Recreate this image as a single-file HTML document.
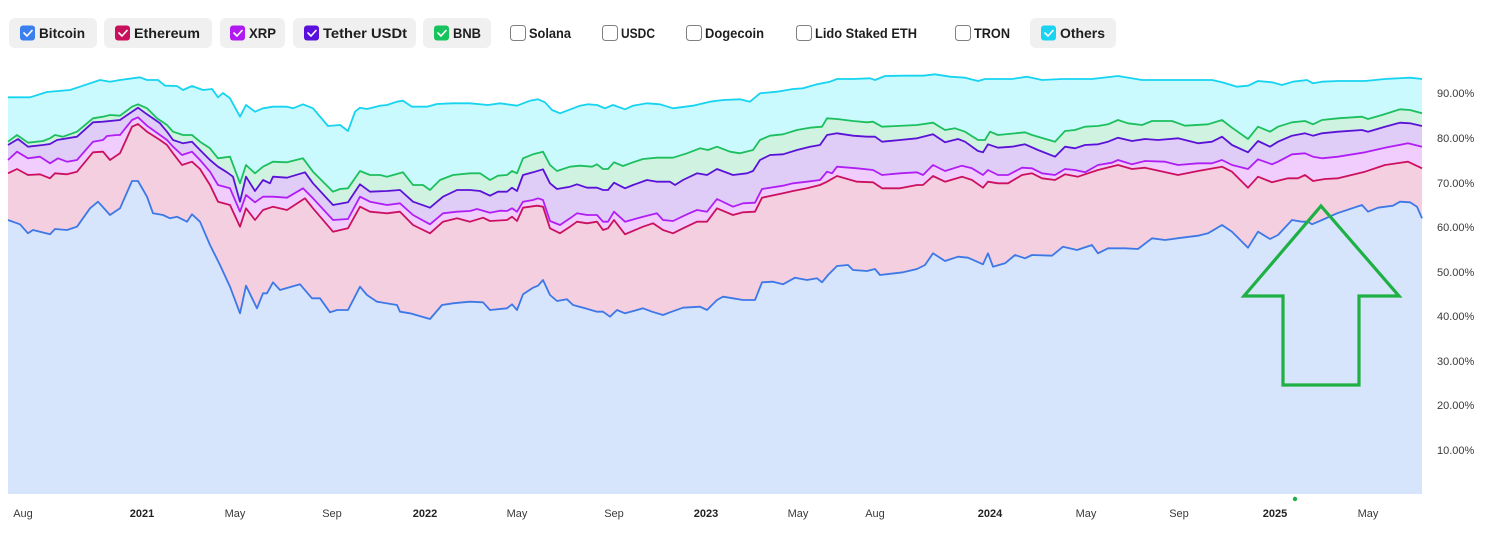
<!DOCTYPE html>
<html><head><meta charset="utf-8"><style>
html,body{margin:0;padding:0;background:#fff;width:1488px;height:536px;overflow:hidden}
svg{display:block}
.lg{font-family:"Liberation Sans",sans-serif;font-size:14px;font-weight:bold;fill:#1e1e1e}
.ax{font-family:"Liberation Sans",sans-serif;font-size:11px;fill:#3a3a3a}
.yr{font-weight:bold;fill:#222}
</style></head><body>
<svg width="1488" height="536" viewBox="0 0 1488 536" xmlns="http://www.w3.org/2000/svg">
<!-- legend buttons -->
<g>
<rect x="9" y="18" width="88" height="30" rx="6" fill="#f0f0f0"/>
<rect x="104" y="18" width="108" height="30" rx="6" fill="#f0f0f0"/>
<rect x="220" y="18" width="65" height="30" rx="6" fill="#f0f0f0"/>
<rect x="293" y="18" width="123" height="30" rx="6" fill="#f0f0f0"/>
<rect x="423" y="18" width="68" height="30" rx="6" fill="#f0f0f0"/>
<rect x="1030" y="18" width="86" height="30" rx="6" fill="#f0f0f0"/>

<rect x="20" y="25.5" width="15" height="15" rx="3" fill="#3a7ff0"/>
<rect x="115" y="25.5" width="15" height="15" rx="3" fill="#c8105c"/>
<rect x="230" y="25.5" width="15" height="15" rx="3" fill="#b01af0"/>
<rect x="304" y="25.5" width="15" height="15" rx="3" fill="#5a10dc"/>
<rect x="434" y="25.5" width="15" height="15" rx="3" fill="#17c35c"/>
<rect x="1041" y="25.5" width="15" height="15" rx="3" fill="#1ad3f0"/>
<g fill="none" stroke="#fff" stroke-width="1.6" stroke-linecap="round" stroke-linejoin="round">
<path d="M24 33 l3 3 l5 -5.5"/>
<path d="M119 33 l3 3 l5 -5.5"/>
<path d="M234 33 l3 3 l5 -5.5"/>
<path d="M308 33 l3 3 l5 -5.5"/>
<path d="M438 33 l3 3 l5 -5.5"/>
<path d="M1045 33 l3 3 l5 -5.5"/>
</g>
<g fill="#fff" stroke="#808080" stroke-width="1">
<rect x="510.5" y="25.5" width="15" height="15" rx="3"/>
<rect x="602.5" y="25.5" width="15" height="15" rx="3"/>
<rect x="686.5" y="25.5" width="15" height="15" rx="3"/>
<rect x="796.5" y="25.5" width="15" height="15" rx="3"/>
<rect x="955.5" y="25.5" width="15" height="15" rx="3"/>
</g>
<text class="lg" x="39" y="38" textLength="46" lengthAdjust="spacingAndGlyphs">Bitcoin</text>
<text class="lg" x="134" y="38" textLength="66" lengthAdjust="spacingAndGlyphs">Ethereum</text>
<text class="lg" x="249" y="38" textLength="27" lengthAdjust="spacingAndGlyphs">XRP</text>
<text class="lg" x="323" y="38" textLength="84" lengthAdjust="spacingAndGlyphs">Tether USDt</text>
<text class="lg" x="453" y="38" textLength="28" lengthAdjust="spacingAndGlyphs">BNB</text>
<text class="lg" x="529" y="38" textLength="42" lengthAdjust="spacingAndGlyphs">Solana</text>
<text class="lg" x="621" y="38" textLength="34" lengthAdjust="spacingAndGlyphs">USDC</text>
<text class="lg" x="705" y="38" textLength="59" lengthAdjust="spacingAndGlyphs">Dogecoin</text>
<text class="lg" x="815" y="38" textLength="102" lengthAdjust="spacingAndGlyphs">Lido Staked ETH</text>
<text class="lg" x="974" y="38" textLength="36" lengthAdjust="spacingAndGlyphs">TRON</text>
<text class="lg" x="1060" y="38" textLength="45" lengthAdjust="spacingAndGlyphs">Others</text>
</g>

<!-- fills -->
<g stroke="none">
<polygon fill="#cbfafe" points="8,97.3 30,97.3 47,92 70,90 80,86.7 100,80 110,81.7 120,80 140,77.3 147,80 158,80 165,85.7 177,86 183,90 192,86 203,90 212,89 218,97.3 223,93 230,98.3 240,116.7 246,105 255,111.7 263,108.3 273,106.7 287,106.7 293,108.3 303,104.3 313,108.3 328,126 340,125 348,131 355,111.7 360,107.7 367,109 380,105.7 387,105 397,101.7 403,100.7 412,106.7 427,106.7 437,104 453,103.3 470,103.3 488,105 500,103.3 517,105.7 530,100.7 538,99.3 545,102.3 552,110 560,113.3 580,105.7 588,104.3 597,105 605,108.3 613,105 625,109.3 633,105.7 647,103.3 660,104.3 673,108.3 693,105.7 710,101.7 723,100 740,99.3 750,101.7 760,93.3 777,91.7 793,89 803,88.3 817,84.3 830,81.7 837,79 853,79 870,78.3 875,80 885,76 903,75.7 923,75.7 935,74.3 950,76.7 965,77.7 978,81 985,79 1012,79 1027,76.7 1042,80 1062,79 1092,79 1118,76 1142,80 1178,80 1212,80 1222,82.3 1237,86.7 1248,85.7 1258,81 1272,82.3 1282,85 1293,81.7 1307,80 1313,83.3 1322,81.7 1338,81 1365,81 1385,79 1410,77.7 1422,79 1422,494 8,494"/>
<polygon fill="#cff3e0" points="8,141.7 17,135 28,142.7 43,141 50,138.3 55,135 63,136.7 77,131.7 93,118.3 103,116.7 110,115 120,115.7 132,106.7 138,104.3 147,108.3 157,118.3 167,125 173,131.7 183,135 192,135 200,141.7 210,148.3 218,158.3 230,156.7 240,183.3 246,165 255,173.3 263,166.7 273,161.7 287,162.3 303,158.3 313,171.7 333,191.7 340,189 348,188.3 360,171 370,175 380,175 387,176.7 403,172.3 413,185 423,185 430,190 440,180 453,175 470,173.3 480,173.3 490,180 498,175.7 507,175 512,171 517,173.3 523,158.3 533,154.3 543,151.7 550,165 557,171 570,166.7 580,165.7 592,166.7 597,164.3 603,169 608,169 614,162.3 623,166 633,162.3 643,159 657,157.7 673,157.7 687,153.3 700,148.3 708,150 717,146.7 730,151.7 740,153.3 753,150 760,140 770,135.7 783,134.3 797,130 810,127.7 822,126.7 827,118.3 837,119 853,121 867,122.3 873,121.7 882,126.7 897,126 917,125 933,122.7 945,130 955,128.3 965,131.7 978,140 985,140 990,131.7 998,135 1025,132.3 1032,135 1038,136.7 1055,141.7 1065,131 1075,130 1085,126.7 1098,126 1108,124.3 1118,120 1128,123.3 1142,125 1152,121 1172,121 1185,125.7 1208,124.3 1222,120 1232,127.7 1248,139 1258,126.7 1270,131.7 1278,126.7 1292,122.3 1305,121 1313,124.3 1322,120 1338,118.3 1362,116.7 1368,119 1382,115 1400,109.3 1410,110 1422,113.3 1422,494 8,494"/>
<polygon fill="#dfcdf8" points="8,145 18,139 28,146.7 43,145 50,144 57,140 77,136.7 93,122.3 103,121.7 120,120 132,111.7 138,107.7 147,114.3 160,123.3 167,131.7 173,140 183,143.3 192,141.7 200,150 210,160 218,166.7 227,172.3 233,176.7 240,201.7 246,176.7 255,191 263,180 270,183.3 273,176.7 287,177.7 305,172.3 313,183.3 333,205 348,202.3 360,184.3 370,191.7 387,191 400,190 413,201.7 430,207.7 443,196.7 457,190 470,190 480,191 490,195.7 498,191.7 507,191.7 512,187.7 517,191 523,175 533,172.3 543,169.3 550,183.3 557,189 570,186.7 577,184.3 587,187.7 597,187.7 603,190 608,190 614,182.7 625,188.3 633,185 647,180 657,181.7 670,181.7 675,185 683,180 697,173.3 707,175 717,169 733,175 747,173.3 753,171 760,160 770,155 783,154.3 797,150 810,146.7 820,145 827,135 837,133.3 853,135.7 867,136.7 875,136.7 882,141.7 900,140 917,138.3 933,134.3 945,142.3 958,139 965,141.7 978,151 983,152.3 988,144.3 998,147.7 1012,146.7 1025,144.3 1038,150 1055,156.7 1065,146.7 1075,148.3 1085,145 1098,144.3 1108,141.7 1118,137.7 1132,141 1145,139 1158,140 1178,138.3 1198,143.3 1212,141.7 1222,136.7 1232,145 1248,152.3 1258,141 1270,146.7 1278,141.7 1292,135.7 1305,133.3 1313,135.7 1322,133.3 1338,131.7 1362,130 1368,131.7 1385,126.7 1400,122.7 1410,123.3 1422,126 1422,494 8,494"/>
<polygon fill="#f1cdfd" points="8,160 17,151.7 28,158.3 40,156.7 50,163.3 58,158.3 67,161.7 77,160 93,141.7 103,140 107,136 117,135 120,135 132,120 138,117.3 147,125.7 160,135 167,140 173,146.7 182,155 192,151.7 200,160 210,171.7 218,185 230,188.3 240,211.7 246,195 255,202.3 263,196.7 273,196.7 287,197.7 303,188.3 313,198.3 333,220 348,219 360,196.7 370,201.7 387,205 400,203.3 413,215 430,224.3 443,213.3 457,211.7 470,211 477,209 490,212.7 500,210.7 507,211 512,208.3 517,211.7 523,201.7 533,200 538,198.3 543,200 550,221 560,225 570,218.3 577,213.3 587,215 597,215 603,221.7 608,221.7 614,211.7 625,221.7 643,216.7 657,213.3 663,220 673,221 687,214.3 697,210 707,211.7 717,199 733,206.7 743,203.3 755,202.7 762,189 783,185.7 793,183.3 807,181.7 820,180 827,171.7 832,173.3 837,166.7 857,168.3 873,170 882,175 900,173.3 917,172.3 923,175 933,165 945,171 962,165.7 972,168.3 983,175 988,170 998,175 1008,175 1022,167.7 1032,168.3 1042,173.3 1055,175 1065,169 1075,170 1085,172.3 1098,165 1112,162.7 1118,160 1132,164.3 1145,161 1165,161.7 1178,165 1198,163.3 1212,163.3 1222,160 1232,165 1248,169 1258,159.3 1272,164.3 1278,161.7 1292,154.3 1305,153.3 1313,156.7 1322,158.3 1338,156.7 1365,152.3 1385,147.7 1408,143.3 1422,146.7 1422,494 8,494"/>
<polygon fill="#f4cfdf" points="8,173.3 17,169 28,175 40,174.3 50,178.3 55,173.3 67,174.3 77,171.7 93,152.3 103,151.7 110,160 120,153.3 132,126.7 138,124 147,131.7 160,140 167,145 173,153.3 182,165 192,161.7 200,169 210,185 218,201.7 230,205 240,226.7 246,208.3 255,220 263,210 273,206.7 287,210 305,198.3 313,208.3 333,231.7 348,228.3 360,206.7 370,211.7 387,213.3 400,211.7 413,225 430,233.3 443,221.7 457,218.3 470,221.7 483,217.7 490,221 507,220 512,216.7 517,221 523,207.7 537,205.7 543,206.7 550,228.3 560,233.3 570,226.7 577,221.7 587,223.3 597,221.7 603,230 608,228.3 614,220 625,234.3 643,226.7 653,223.3 663,230 673,233.3 683,228.3 697,221.7 707,221.7 717,208.3 733,215 743,212.3 755,211.7 762,197.7 783,193.3 793,191 807,188.3 820,185 827,181.7 837,176 857,181.7 873,182.3 882,188.3 900,188.3 917,185 923,185 933,176 945,181.7 962,176.7 972,180 983,187.7 988,181.7 998,183.3 1008,183.3 1022,175 1032,173.3 1042,178.3 1055,180 1065,174.3 1078,176.7 1088,173.3 1098,170 1118,165 1132,169 1145,167.7 1178,175 1198,171 1222,166.7 1232,171.7 1248,187.7 1258,176.7 1272,182.3 1288,178.3 1298,178.3 1305,175 1313,181 1325,179 1338,178.3 1365,171.7 1385,165 1408,161.7 1422,168.3 1422,494 8,494"/>
<polygon fill="#d6e4fc" points="8,220 20,224.3 28,233.3 33,230 50,234.3 55,229 67,230 77,226.7 90,208.3 98,201.7 110,215 120,208.3 132,181 138,181 147,196.7 153,213.3 163,215 170,218.3 177,216.7 187,221.7 192,214.3 200,221.7 210,245 220,265 230,286.7 240,313.3 246,285.7 257,308.3 263,293.3 267,293.3 273,282.3 280,290 300,284.3 312,298.3 320,298.3 330,312.3 337,310 348,310 360,286.7 367,295 377,301.7 397,305 400,311.7 410,313.3 430,319 442,305 453,303.3 463,302.3 470,301.7 483,302.3 490,310 507,308.3 512,304.3 517,310 523,294.3 533,287.7 538,285.7 543,280 550,295 557,301 567,299.3 573,305 585,308.3 597,311.7 603,311.7 610,316.7 617,310 625,313.3 637,310 643,308.3 652,311.7 663,315 670,312.3 683,307.7 700,306.7 707,310 717,300 723,296.7 733,298.3 743,300 755,300 762,282.3 773,281.7 783,284.3 795,277.7 807,280 817,278.3 822,282.3 828,275 837,266 848,265 853,270 867,271 875,269 880,275 903,272.3 917,269 925,265 933,253.3 945,261 958,256.7 968,257.7 983,264.3 988,253.3 993,266.7 1005,263.3 1015,255 1025,258.3 1032,255 1052,255.7 1063,246.7 1077,250 1092,245 1098,253.3 1108,248.3 1125,248.3 1138,249 1152,238.3 1165,240 1182,237.7 1198,235.7 1208,233.3 1222,225 1232,231.7 1248,247.7 1258,231.7 1270,239 1278,235 1292,220 1302,221.7 1308,221.7 1312,224.3 1322,220 1337,213.3 1362,205 1368,211.7 1378,207.7 1393,205.7 1400,201.7 1410,202.3 1417,206.7 1422,218.3 1422,494 8,494"/>
</g>

<!-- lines -->
<g fill="none" stroke-width="1.8" stroke-linejoin="round">
<polyline stroke="#16d3f0" points="8,97.3 30,97.3 47,92 70,90 80,86.7 100,80 110,81.7 120,80 140,77.3 147,80 158,80 165,85.7 177,86 183,90 192,86 203,90 212,89 218,97.3 223,93 230,98.3 240,116.7 246,105 255,111.7 263,108.3 273,106.7 287,106.7 293,108.3 303,104.3 313,108.3 328,126 340,125 348,131 355,111.7 360,107.7 367,109 380,105.7 387,105 397,101.7 403,100.7 412,106.7 427,106.7 437,104 453,103.3 470,103.3 488,105 500,103.3 517,105.7 530,100.7 538,99.3 545,102.3 552,110 560,113.3 580,105.7 588,104.3 597,105 605,108.3 613,105 625,109.3 633,105.7 647,103.3 660,104.3 673,108.3 693,105.7 710,101.7 723,100 740,99.3 750,101.7 760,93.3 777,91.7 793,89 803,88.3 817,84.3 830,81.7 837,79 853,79 870,78.3 875,80 885,76 903,75.7 923,75.7 935,74.3 950,76.7 965,77.7 978,81 985,79 1012,79 1027,76.7 1042,80 1062,79 1092,79 1118,76 1142,80 1178,80 1212,80 1222,82.3 1237,86.7 1248,85.7 1258,81 1272,82.3 1282,85 1293,81.7 1307,80 1313,83.3 1322,81.7 1338,81 1365,81 1385,79 1410,77.7 1422,79"/>
<polyline stroke="#1cbf5e" points="8,141.7 17,135 28,142.7 43,141 50,138.3 55,135 63,136.7 77,131.7 93,118.3 103,116.7 110,115 120,115.7 132,106.7 138,104.3 147,108.3 157,118.3 167,125 173,131.7 183,135 192,135 200,141.7 210,148.3 218,158.3 230,156.7 240,183.3 246,165 255,173.3 263,166.7 273,161.7 287,162.3 303,158.3 313,171.7 333,191.7 340,189 348,188.3 360,171 370,175 380,175 387,176.7 403,172.3 413,185 423,185 430,190 440,180 453,175 470,173.3 480,173.3 490,180 498,175.7 507,175 512,171 517,173.3 523,158.3 533,154.3 543,151.7 550,165 557,171 570,166.7 580,165.7 592,166.7 597,164.3 603,169 608,169 614,162.3 623,166 633,162.3 643,159 657,157.7 673,157.7 687,153.3 700,148.3 708,150 717,146.7 730,151.7 740,153.3 753,150 760,140 770,135.7 783,134.3 797,130 810,127.7 822,126.7 827,118.3 837,119 853,121 867,122.3 873,121.7 882,126.7 897,126 917,125 933,122.7 945,130 955,128.3 965,131.7 978,140 985,140 990,131.7 998,135 1025,132.3 1032,135 1038,136.7 1055,141.7 1065,131 1075,130 1085,126.7 1098,126 1108,124.3 1118,120 1128,123.3 1142,125 1152,121 1172,121 1185,125.7 1208,124.3 1222,120 1232,127.7 1248,139 1258,126.7 1270,131.7 1278,126.7 1292,122.3 1305,121 1313,124.3 1322,120 1338,118.3 1362,116.7 1368,119 1382,115 1400,109.3 1410,110 1422,113.3"/>
<polyline stroke="#5a12d6" points="8,145 18,139 28,146.7 43,145 50,144 57,140 77,136.7 93,122.3 103,121.7 120,120 132,111.7 138,107.7 147,114.3 160,123.3 167,131.7 173,140 183,143.3 192,141.7 200,150 210,160 218,166.7 227,172.3 233,176.7 240,201.7 246,176.7 255,191 263,180 270,183.3 273,176.7 287,177.7 305,172.3 313,183.3 333,205 348,202.3 360,184.3 370,191.7 387,191 400,190 413,201.7 430,207.7 443,196.7 457,190 470,190 480,191 490,195.7 498,191.7 507,191.7 512,187.7 517,191 523,175 533,172.3 543,169.3 550,183.3 557,189 570,186.7 577,184.3 587,187.7 597,187.7 603,190 608,190 614,182.7 625,188.3 633,185 647,180 657,181.7 670,181.7 675,185 683,180 697,173.3 707,175 717,169 733,175 747,173.3 753,171 760,160 770,155 783,154.3 797,150 810,146.7 820,145 827,135 837,133.3 853,135.7 867,136.7 875,136.7 882,141.7 900,140 917,138.3 933,134.3 945,142.3 958,139 965,141.7 978,151 983,152.3 988,144.3 998,147.7 1012,146.7 1025,144.3 1038,150 1055,156.7 1065,146.7 1075,148.3 1085,145 1098,144.3 1108,141.7 1118,137.7 1132,141 1145,139 1158,140 1178,138.3 1198,143.3 1212,141.7 1222,136.7 1232,145 1248,152.3 1258,141 1270,146.7 1278,141.7 1292,135.7 1305,133.3 1313,135.7 1322,133.3 1338,131.7 1362,130 1368,131.7 1385,126.7 1400,122.7 1410,123.3 1422,126"/>
<polyline stroke="#b01ef5" points="8,160 17,151.7 28,158.3 40,156.7 50,163.3 58,158.3 67,161.7 77,160 93,141.7 103,140 107,136 117,135 120,135 132,120 138,117.3 147,125.7 160,135 167,140 173,146.7 182,155 192,151.7 200,160 210,171.7 218,185 230,188.3 240,211.7 246,195 255,202.3 263,196.7 273,196.7 287,197.7 303,188.3 313,198.3 333,220 348,219 360,196.7 370,201.7 387,205 400,203.3 413,215 430,224.3 443,213.3 457,211.7 470,211 477,209 490,212.7 500,210.7 507,211 512,208.3 517,211.7 523,201.7 533,200 538,198.3 543,200 550,221 560,225 570,218.3 577,213.3 587,215 597,215 603,221.7 608,221.7 614,211.7 625,221.7 643,216.7 657,213.3 663,220 673,221 687,214.3 697,210 707,211.7 717,199 733,206.7 743,203.3 755,202.7 762,189 783,185.7 793,183.3 807,181.7 820,180 827,171.7 832,173.3 837,166.7 857,168.3 873,170 882,175 900,173.3 917,172.3 923,175 933,165 945,171 962,165.7 972,168.3 983,175 988,170 998,175 1008,175 1022,167.7 1032,168.3 1042,173.3 1055,175 1065,169 1075,170 1085,172.3 1098,165 1112,162.7 1118,160 1132,164.3 1145,161 1165,161.7 1178,165 1198,163.3 1212,163.3 1222,160 1232,165 1248,169 1258,159.3 1272,164.3 1278,161.7 1292,154.3 1305,153.3 1313,156.7 1322,158.3 1338,156.7 1365,152.3 1385,147.7 1408,143.3 1422,146.7"/>
<polyline stroke="#cc1060" points="8,173.3 17,169 28,175 40,174.3 50,178.3 55,173.3 67,174.3 77,171.7 93,152.3 103,151.7 110,160 120,153.3 132,126.7 138,124 147,131.7 160,140 167,145 173,153.3 182,165 192,161.7 200,169 210,185 218,201.7 230,205 240,226.7 246,208.3 255,220 263,210 273,206.7 287,210 305,198.3 313,208.3 333,231.7 348,228.3 360,206.7 370,211.7 387,213.3 400,211.7 413,225 430,233.3 443,221.7 457,218.3 470,221.7 483,217.7 490,221 507,220 512,216.7 517,221 523,207.7 537,205.7 543,206.7 550,228.3 560,233.3 570,226.7 577,221.7 587,223.3 597,221.7 603,230 608,228.3 614,220 625,234.3 643,226.7 653,223.3 663,230 673,233.3 683,228.3 697,221.7 707,221.7 717,208.3 733,215 743,212.3 755,211.7 762,197.7 783,193.3 793,191 807,188.3 820,185 827,181.7 837,176 857,181.7 873,182.3 882,188.3 900,188.3 917,185 923,185 933,176 945,181.7 962,176.7 972,180 983,187.7 988,181.7 998,183.3 1008,183.3 1022,175 1032,173.3 1042,178.3 1055,180 1065,174.3 1078,176.7 1088,173.3 1098,170 1118,165 1132,169 1145,167.7 1178,175 1198,171 1222,166.7 1232,171.7 1248,187.7 1258,176.7 1272,182.3 1288,178.3 1298,178.3 1305,175 1313,181 1325,179 1338,178.3 1365,171.7 1385,165 1408,161.7 1422,168.3"/>
<polyline stroke="#3d78e6" points="8,220 20,224.3 28,233.3 33,230 50,234.3 55,229 67,230 77,226.7 90,208.3 98,201.7 110,215 120,208.3 132,181 138,181 147,196.7 153,213.3 163,215 170,218.3 177,216.7 187,221.7 192,214.3 200,221.7 210,245 220,265 230,286.7 240,313.3 246,285.7 257,308.3 263,293.3 267,293.3 273,282.3 280,290 300,284.3 312,298.3 320,298.3 330,312.3 337,310 348,310 360,286.7 367,295 377,301.7 397,305 400,311.7 410,313.3 430,319 442,305 453,303.3 463,302.3 470,301.7 483,302.3 490,310 507,308.3 512,304.3 517,310 523,294.3 533,287.7 538,285.7 543,280 550,295 557,301 567,299.3 573,305 585,308.3 597,311.7 603,311.7 610,316.7 617,310 625,313.3 637,310 643,308.3 652,311.7 663,315 670,312.3 683,307.7 700,306.7 707,310 717,300 723,296.7 733,298.3 743,300 755,300 762,282.3 773,281.7 783,284.3 795,277.7 807,280 817,278.3 822,282.3 828,275 837,266 848,265 853,270 867,271 875,269 880,275 903,272.3 917,269 925,265 933,253.3 945,261 958,256.7 968,257.7 983,264.3 988,253.3 993,266.7 1005,263.3 1015,255 1025,258.3 1032,255 1052,255.7 1063,246.7 1077,250 1092,245 1098,253.3 1108,248.3 1125,248.3 1138,249 1152,238.3 1165,240 1182,237.7 1198,235.7 1208,233.3 1222,225 1232,231.7 1248,247.7 1258,231.7 1270,239 1278,235 1292,220 1302,221.7 1308,221.7 1312,224.3 1322,220 1337,213.3 1362,205 1368,211.7 1378,207.7 1393,205.7 1400,201.7 1410,202.3 1417,206.7 1422,218.3"/>
</g>

<!-- arrow annotation -->
<polygon points="1321,206 1399,296 1359,296 1359,385 1283,385 1283,296 1244,296" fill="none" stroke="#1fb043" stroke-width="3.2" stroke-linejoin="miter"/>
<circle cx="1295" cy="499" r="2.2" fill="#1fb043"/>

<!-- y axis labels -->
<g class="ax">
<text x="1437" y="97">90.00%</text>
<text x="1437" y="142">80.00%</text>
<text x="1437" y="187">70.00%</text>
<text x="1437" y="231">60.00%</text>
<text x="1437" y="276">50.00%</text>
<text x="1437" y="320">40.00%</text>
<text x="1437" y="365">30.00%</text>
<text x="1437" y="409">20.00%</text>
<text x="1437" y="454">10.00%</text>
</g>

<!-- x axis labels -->
<g class="ax" text-anchor="middle">
<text x="23" y="517">Aug</text>
<text x="142" y="517" class="yr">2021</text>
<text x="235" y="517">May</text>
<text x="332" y="517">Sep</text>
<text x="425" y="517" class="yr">2022</text>
<text x="517" y="517">May</text>
<text x="614" y="517">Sep</text>
<text x="706" y="517" class="yr">2023</text>
<text x="798" y="517">May</text>
<text x="875" y="517">Aug</text>
<text x="990" y="517" class="yr">2024</text>
<text x="1086" y="517">May</text>
<text x="1179" y="517">Sep</text>
<text x="1275" y="517" class="yr">2025</text>
<text x="1368" y="517">May</text>
</g>
</svg>
</body></html>
